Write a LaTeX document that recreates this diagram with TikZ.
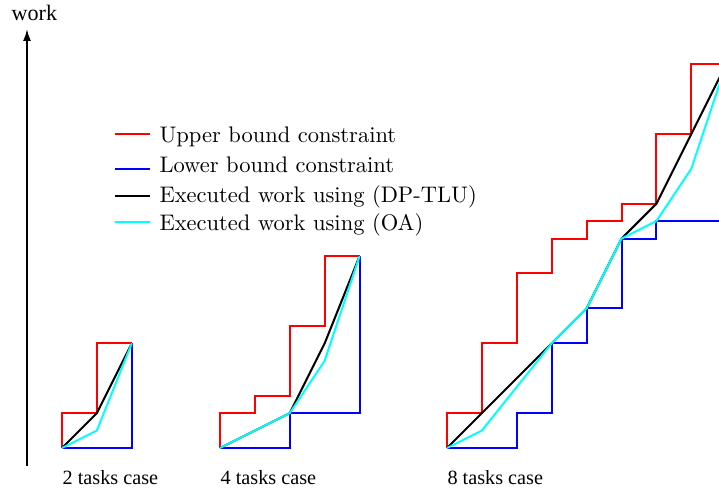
\documentclass[tikz,border=0pt]{standalone}
\usepackage{fontspec}
\newfontfamily\tms{Liberation Serif}
\newfontfamily\lmten{lmroman10-regular.otf}
\usetikzlibrary{arrows.meta}
\definecolor{ubred}{RGB}{255,0,0}
\definecolor{lbblue}{RGB}{0,0,255}
\definecolor{oacyan}{RGB}{0,255,255}
\begin{document}
\begin{tikzpicture}[x=1bp,y=-1bp,
  ub/.style={draw=ubred,line width=2bp,line join=miter},
  lb/.style={draw=lbblue,line width=2bp,line join=miter},
  ex/.style={draw=black,line width=2bp},
  oa/.style={draw=oacyan,line width=2bp},
  leg/.style={anchor=base west,inner sep=0pt,font=\lmten\fontsize{22.6}{27}\selectfont},
  lbltxt/.style={anchor=base west,inner sep=0pt,font=\tms\fontsize{20.3}{24}\selectfont}]
\useasboundingbox (0,0) rectangle (719,488);
\clip (0,0) rectangle (719,488);
% axis
\coordinate (ax0) at (27,466);
\coordinate (ax1) at (27,29);
\draw[line width=1.8bp,-{Latex[length=12bp,width=8bp]}] (ax0) -- (ax1);
\node[lbltxt,font=\tms\fontsize{22.2}{26}\selectfont] (wk) at (11.5,21) {work};
% legend
\coordinate (l1a) at (115,134); \coordinate (l1b) at (150,134);
\coordinate (l2a) at (115,169); \coordinate (l2b) at (150,169);
\coordinate (l3a) at (115,196); \coordinate (l3b) at (150,196);
\coordinate (l4a) at (115,222); \coordinate (l4b) at (150,222);
\draw[ub] (l1a) -- (l1b);
\draw[lb] (l2a) -- (l2b);
\draw[ex] (l3a) -- (l3b);
\draw[oa] (l4a) -- (l4b);
\node[leg] (t1) at (159.3,142.7) {Upper bound constraint};
\node[leg] (t2) at (159.3,172.7) {Lower bound constraint};
\node[leg] (t3) at (159.3,202.3) {Executed work using (DP-TLU)};
\node[leg] (t4) at (159.3,231) {Executed work using (OA)};
% 2 tasks
\begin{scope}[shift={(62,448)},x=34.9bp,y=34.9bp]
\draw[ub] (0,0)--(0,1)--(1,1)--(1,3)--(2,3);
\draw[lb] (0,0)--(2,0)--(2,3);
\draw[ex] (0,0)--(1,1)--(2,3);
\draw[oa] (0,0)--(1,0.5)--(2,3);
\end{scope}
% 4 tasks
\begin{scope}[shift={(220,448)},x=34.9bp,y=34.9bp]
\draw[ub] (0,0)--(0,1)--(1,1)--(1,1.5)--(2,1.5)--(2,3.5)--(3,3.5)--(3,5.5)--(4,5.5);
\draw[lb] (0,0)--(2,0)--(2,1)--(4,1)--(4,5.5);
\draw[ex] (0,0)--(2,1)--(3,3)--(4,5.5);
\draw[oa] (0,0)--(2,1)--(3,2.5)--(4,5.5);
\end{scope}
% 8 tasks
\begin{scope}[shift={(447,448)},x=34.9bp,y=34.9bp]
\draw[ub] (0,0)--(0,1)--(1,1)--(1,3)--(2,3)--(2,5)--(3,5)--(3,6)--(4,6)--(4,6.5)--(5,6.5)--(5,7)--(6,7)--(6,9)--(7,9)--(7,11)--(8,11);
\draw[lb] (0,0)--(2,0)--(2,1)--(3,1)--(3,3)--(4,3)--(4,4)--(5,4)--(5,6)--(6,6)--(6,6.5)--(8,6.5);
\draw[ex] (0,0)--(3,3)--(4,4)--(5,6)--(6,7)--(8,11);
\draw[oa] (0,0)--(1,0.5)--(3,3)--(4,4)--(5,6)--(6,6.5)--(7,8)--(8,11);
\end{scope}
\node[lbltxt] (c2) at (62.5,484) {2 tasks case};
\node[lbltxt] (c4) at (220.5,484) {4 tasks case};
\node[lbltxt] (c8) at (447.3,484) {8 tasks case};
\end{tikzpicture}
\end{document}
